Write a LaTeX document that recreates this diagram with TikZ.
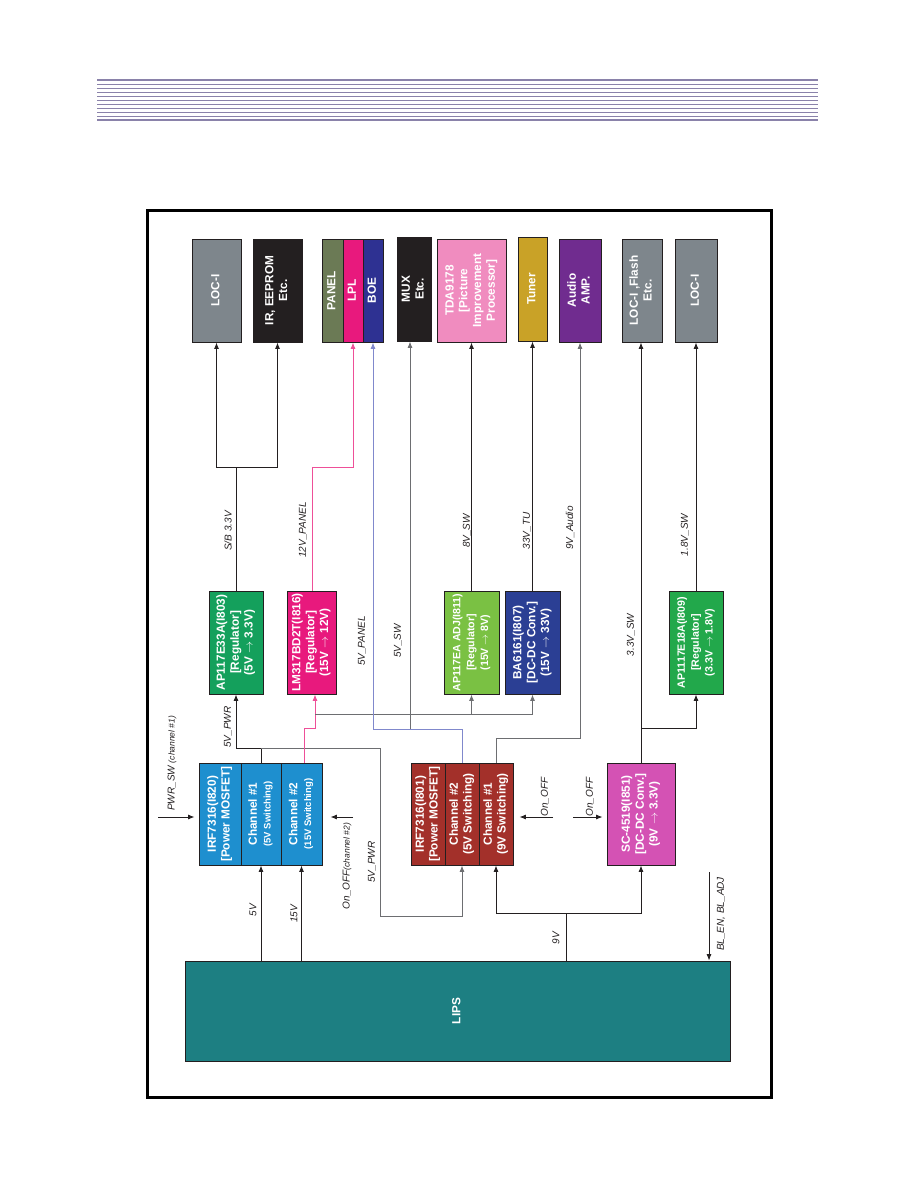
\documentclass[tikz,border=0pt]{standalone}
\usepackage{fontspec}
\setmainfont{Liberation Sans}
\usetikzlibrary{arrows.meta}
\definecolor{ink}{HTML}{231F20}
\definecolor{gry}{HTML}{6D6E71}
\definecolor{hdr}{HTML}{8A82AA}
\definecolor{cblue}{HTML}{1E8FCF}
\definecolor{cred}{HTML}{A3302A}
\definecolor{corchid}{HTML}{D452B4}
\definecolor{cgreen}{HTML}{14A05C}
\definecolor{cmag}{HTML}{E8197D}
\definecolor{clgreen}{HTML}{7AC143}
\definecolor{cnavy}{HTML}{2B3F94}
\definecolor{cgreen2}{HTML}{22A84B}
\definecolor{cgray}{HTML}{7E868C}
\definecolor{colive}{HTML}{6B7A55}
\definecolor{cboe}{HTML}{2E3192}
\definecolor{cpink}{HTML}{F08CBF}
\definecolor{cgold}{HTML}{C9A227}
\definecolor{cpurple}{HTML}{702C8F}
\definecolor{cteal}{HTML}{1D7F82}
\definecolor{plink}{HTML}{EE4F98}
\definecolor{blink}{HTML}{8088CC}
\newcommand\vt[1]{\rotatebox{90}{\begin{tabular}{@{}c@{}}#1\end{tabular}}}
\newcommand\sm[1]{{\fontsize{9.5}{11}\selectfont #1}}
\newcommand\ar{$\rightarrow$}
\begin{document}
\begin{tikzpicture}[x=1pt,y=-1pt,
  blk/.style={draw=ink, line width=0.8pt, inner sep=0pt, text=white,
    font=\bfseries\fontsize{11.8}{13.8}\selectfont},
  lab/.style={rotate=90, inner sep=0pt, text=ink,
    font=\itshape\fontsize{10}{12}\selectfont},
  ln/.style={draw=ink, line width=0.9pt},
  arr/.style={ln, -{Latex[length=6.5pt,width=5pt]}},
  garr/.style={draw=gry, line width=0.9pt, -{Latex[length=6.5pt,width=5pt]}},
  parr/.style={draw=plink, line width=0.9pt, -{Latex[length=6.5pt,width=5pt]}},
  barr/.style={draw=blink, line width=0.9pt, -{Latex[length=6.5pt,width=5pt]}}]
\useasboundingbox (0,0) rectangle (918,1188);
% header lines
\draw[hdr, line width=2.2pt] (97,80) -- (818,80);
\foreach \k in {0,...,8} \draw[hdr, line width=1.1pt] (97,84.3+4*\k) -- (818,84.3+4*\k);
\draw[hdr, line width=2.2pt] (97,120) -- (818,120);
% frame
\draw[black, line width=3pt] (147,210) rectangle (771,1097);
% top row
\node[blk, fill=cgray, minimum width=49pt, minimum height=103pt] (loc1) at (216.5,290.5) {\vt{LOC-I}};
\node[blk, fill=ink, minimum width=49pt, minimum height=103pt] (ireep) at (277.5,290.5) {\vt{IR, EEPROM\\Etc.}};
\node[blk, fill=colive, minimum width=21pt, minimum height=103pt] (panel) at (332.5,290.5) {\vt{PANEL}};
\node[blk, fill=cmag, minimum width=20pt, minimum height=103pt] (lpl) at (353,290.5) {\vt{LPL}};
\node[blk, fill=cboe, minimum width=20pt, minimum height=103pt] (boe) at (373,290.5) {\vt{BOE}};
\node[blk, fill=ink, minimum width=34pt, minimum height=104pt] (mux) at (414,289) {\vt{MUX\\Etc.}};
\node[blk, fill=cpink, minimum width=69pt, minimum height=103pt] (tda) at (471.5,290.5) {\vt{TDA9178\\[0pt] [Picture\\Improvement\\Processor]}};
\node[blk, fill=cgold, minimum width=29pt, minimum height=104pt] (tuner) at (532.5,289) {\vt{Tuner}};
\node[blk, fill=cpurple, minimum width=42pt, minimum height=103pt] (audio) at (580,290.5) {\vt{Audio\\AMP.}};
\node[blk, fill=cgray, minimum width=40pt, minimum height=103pt] (locf) at (642,290.5) {\vt{LOC-I ,Flash\\Etc.}};
\node[blk, fill=cgray, minimum width=42pt, minimum height=103pt] (locr) at (696,290.5) {\vt{LOC-I}};
% middle row
\node[blk, fill=cgreen, minimum width=54pt, minimum height=103pt] (ap33) at (236,642.5) {\vt{AP117E33A(I803)\\[0pt] [Regulator]\\(5V \ar\ 3.3V)}};
\node[blk, fill=cmag, minimum width=49pt, minimum height=103pt] (lm) at (311.5,642.5) {\vt{LM317BD2T(I816)\\[0pt] [Regulator]\\(15V \ar\ 12V)}};
\node[blk, fill=clgreen, minimum width=55pt, minimum height=103pt, font=\bfseries\fontsize{10.6}{13.8}\selectfont] (adj) at (471.5,642.5) {\vt{AP117EA ADJ(I811)\\[0pt] [Regulator]\\(15V \ar\ 8V)}};
\node[blk, fill=cnavy, minimum width=55pt, minimum height=103pt] (ba) at (532.5,642.5) {\vt{BA6161(I807)\\[0pt] [DC-DC Conv.]\\(15V \ar\ 33V)}};
\node[blk, fill=cgreen2, minimum width=54pt, minimum height=103pt, font=\bfseries\fontsize{10.6}{13.8}\selectfont] (e18) at (696,642.5) {\vt{AP1117E18A(I809)\\[0pt] [Regulator]\\(3.3V \ar\ 1.8V)}};
% lower row
\node[blk, fill=cblue, minimum width=42pt, minimum height=102pt] (i820a) at (220,814) {\vt{IRF7316(I820)\\[0pt] [Power MOSFET]}};
\node[blk, fill=cblue, minimum width=40pt, minimum height=102pt] (i820b) at (261,814) {\vt{Channel \#1\\\sm{(5V Switching)}}};
\node[blk, fill=cblue, minimum width=41pt, minimum height=102pt] (i820c) at (301.5,814) {\vt{Channel \#2\\\sm{(15V Switching)}}};
\node[blk, fill=cred, minimum width=34pt, minimum height=102pt] (i801a) at (428,814) {\vt{IRF7316(I801)\\[0pt] [Power MOSFET]}};
\node[blk, fill=cred, minimum width=34pt, minimum height=102pt] (i801b) at (462,814) {\vt{Channel \#2\\(5V Switching)}};
\node[blk, fill=cred, minimum width=34pt, minimum height=102pt] (i801c) at (496,814) {\vt{Channel \#1\\(9V Switching)}};
\node[blk, fill=corchid, minimum width=68pt, minimum height=102pt] (sc) at (641,814) {\vt{SC-4519(I851)\\[0pt] [DC-DC Conv.]\\(9V \ar\ 3.3V)}};
\node[blk, fill=cteal, minimum width=545pt, minimum height=100pt] (lips) at (457.5,1011) {\vt{LIPS}};
% LIPS outputs
\draw[arr] (lips.north -| i820b.south) -- (i820b.south);
\draw[arr] (lips.north -| i820c.south) -- (i820c.south);
\coordinate (j9) at (566,913);
\draw[ln] (lips.north -| j9) -- (j9);
\draw[arr] (j9) -| (i801c.south);
\draw[arr] (j9) -| (sc.south);
\coordinate (bl) at (709,872);
\draw[arr] (bl) -- (bl |- lips.north);
% 5V_PWR
\coordinate (j5) at (261,748);
\coordinate (k1) at (380,748);
\coordinate (k2) at (380,916);
\draw[ln] (i820b.north) -- (j5);
\draw[arr] (j5) -| (ap33.south);
\draw[garr] (j5) -- (k1) -- (k2) -| (i801b.south);
% 15V
\coordinate (p1) at (304,728);
\coordinate (j15) at (315,714);
\draw[parr] (i820c.north -| p1) -- (p1) -| (lm.south -| j15);
\draw[garr] (j15) -| (ba.south);
\draw[garr] (j15 -| adj.south) -- (adj.south);
% 5V_PANEL / 5V_SW
\coordinate (b1) at (462,729);
\draw[barr] (i801b.north) -- (b1) -| (boe.south);
\coordinate (sw) at (410,729);
\draw[garr] (sw) -- (sw |- mux.south);
% 9V_Audio
\coordinate (a1) at (496,738);
\draw[garr] (i801c.north) -- (a1) -| (audio.south);
% 3.3V_SW
\draw[arr] (sc.north) -- (sc.north |- locf.south);
\coordinate (s1) at (641,728);
\draw[arr] (s1) -| (e18.south);
\draw[arr] (e18.north) -- (locr.south);
\draw[arr] (adj.north) -- (tda.south);
\draw[arr] (ba.north) -- (tuner.south);
% S/B 3.3V and 12V_PANEL
\coordinate (t1) at (236,467);
\draw[ln] (ap33.north) -- (t1);
\draw[arr] (t1) -| (loc1.south);
\draw[arr] (t1) -| (ireep.south);
\coordinate (t2) at (312,467);
\draw[parr] (lm.north -| t2) -- (t2) -| (lpl.south);
% control inputs
\coordinate (pw) at (158,817);
\draw[arr, shorten >=4pt] (pw) -- (pw -| i820a.west);
\coordinate (oc) at (353,817);
\draw[arr, shorten >=8pt] (oc) -- (oc -| i820c.east);
\coordinate (o1) at (553,817);
\draw[arr, shorten >=6pt] (o1) -- (o1 -| i801c.east);
\coordinate (o2) at (573,817);
\draw[arr, shorten >=4pt] (o2) -- (o2 -| sc.west);
% labels
\node[lab, anchor=west] (lpw) at (172,811) {PWR\_SW {\fontsize{8.5}{10}\selectfont(channel \#1)}};
\node[lab] (l5pwr) at (228,727) {5V\_PWR};
\node[lab] (lsb) at (228,531) {S/B 3.3V};
\node[lab] (l12) at (303,530) {12V\_PANEL};
\node[lab] (l5p) at (362,641) {5V\_PANEL};
\node[lab] (l5sw) at (398,641) {5V\_SW};
\node[lab] (l8) at (467,531) {8V\_SW};
\node[lab] (l33) at (527,531) {33V\_TU};
\node[lab] (l9a) at (570,528) {9V\_Audio};
\node[lab] (l33sw) at (631,635) {3.3V\_SW};
\node[lab] (l18) at (685,535) {1.8V\_SW};
\node[lab] (l5v) at (253,910) {5V};
\node[lab] (l15v) at (294,914) {15V};
\node[lab] (l9v) at (556,938) {9V};
\node[lab] (loc2) at (347,866) {On\_OFF{\fontsize{8.5}{10}\selectfont(channel \#2)}};
\node[lab] (l5pwr2) at (372,862) {5V\_PWR};
\node[lab] (lon1) at (545,797) {On\_OFF};
\node[lab] (lon2) at (590,797) {On\_OFF};
\node[lab] (lbl) at (721,914) {BL\_EN, BL\_ADJ};
\end{tikzpicture}
\end{document}
